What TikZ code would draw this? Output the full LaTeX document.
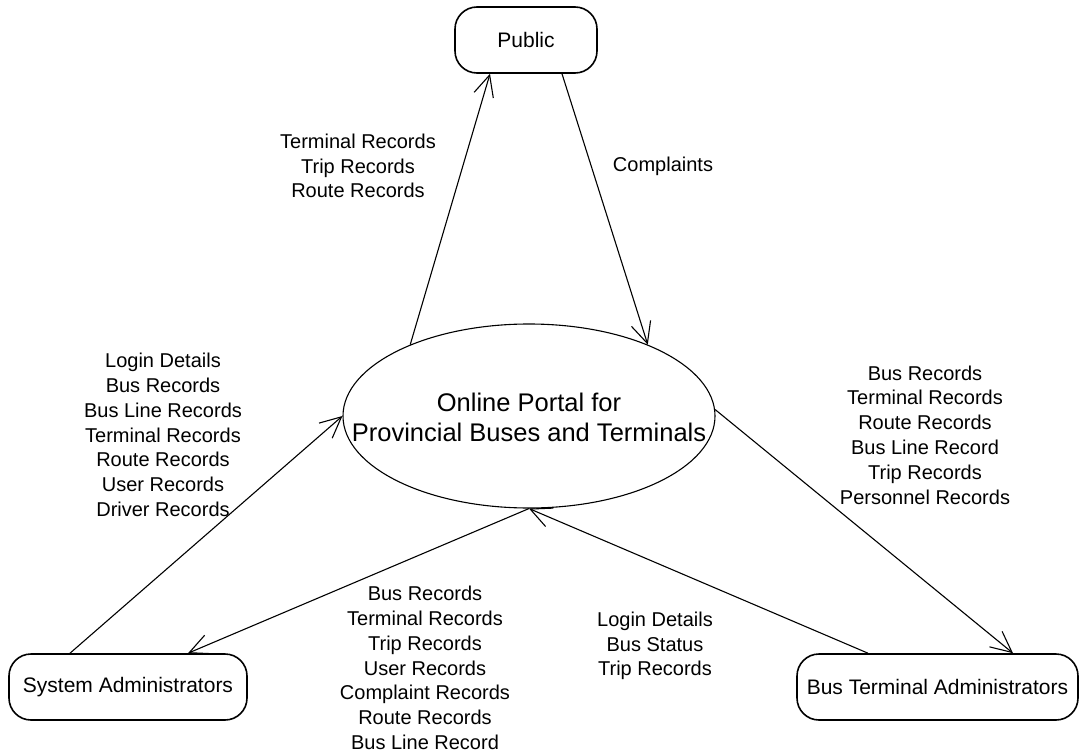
\documentclass[tikz,border=0pt]{standalone}
\usepackage{fontspec}
\setmainfont{Liberation Sans}
\usetikzlibrary{shapes.geometric,arrows.meta}
\begin{document}
\begin{tikzpicture}[x=1bp,y=-1bp,
  entity/.style={draw,line width=1.6bp,rounded corners=22bp,minimum height=66bp,inner sep=0pt,font=\fontsize{21bp}{25bp}\selectfont},
  proc/.style={draw,ellipse,line width=1.1bp,minimum width=372bp,minimum height=184bp,inner sep=0pt},
  proctext/.style={align=center,inner sep=0pt,font=\fontsize{25.5bp}{30bp}\selectfont},
  lbl/.style={align=center,inner sep=0pt,font=\fontsize{20bp}{24.8bp}\selectfont},
  flow/.style={line width=1.1bp,-{Straight Barb[length=21bp,width=20bp,line width=1.1bp]}}
]
\useasboundingbox (0,0) rectangle (1080,755);
\node[entity,minimum width=142bp] (P) at (526,40) {Public};
\node[entity,minimum width=238bp] (S) at (128,687) {System Administrators};
\node[entity,minimum width=281bp] (B) at (937.5,687) {Bus Terminal Administrators};
\node[proc] (E) at (529,416) {};
\node[proctext] (Et) at ([yshift=-1bp]E.center) {Online Portal for\\Provincial Buses and Terminals};

\draw[flow] (E.149.6) -- ([xshift=-36bp]P.south);
\draw[flow] ([xshift=36bp]P.south) -- (E.31.2);
\draw[flow] ([xshift=-58bp]S.north) -- (E.west);
\draw[flow] (E.south) -- ([xshift=60bp]S.north);
\draw[flow] ([xshift=-69.5bp]B.north) -- (E.south);
\draw[flow] (E.2) -- ([xshift=75.5bp]B.north);

\node[lbl] (l1) at (358,166) {Terminal Records\\Trip Records\\Route Records};
\node[lbl] (l2) at (663,166) {Complaints};
\node[lbl] (l3) at (163,435) {Login Details\\Bus Records\\Bus Line Records\\Terminal Records\\Route Records\\User Records\\Driver Records};
\node[lbl] (l4) at (925,435) {Bus Records\\Terminal Records\\Route Records\\Bus Line Record\\Trip Records\\Personnel Records};
\node[lbl] (l5) at (425,668) {Bus Records\\Terminal Records\\Trip Records\\User Records\\Complaint Records\\Route Records\\Bus Line Record};
\node[lbl] (l6) at (655,646) {Login Details\\Bus Status\\Trip Records};
\end{tikzpicture}
\end{document}
